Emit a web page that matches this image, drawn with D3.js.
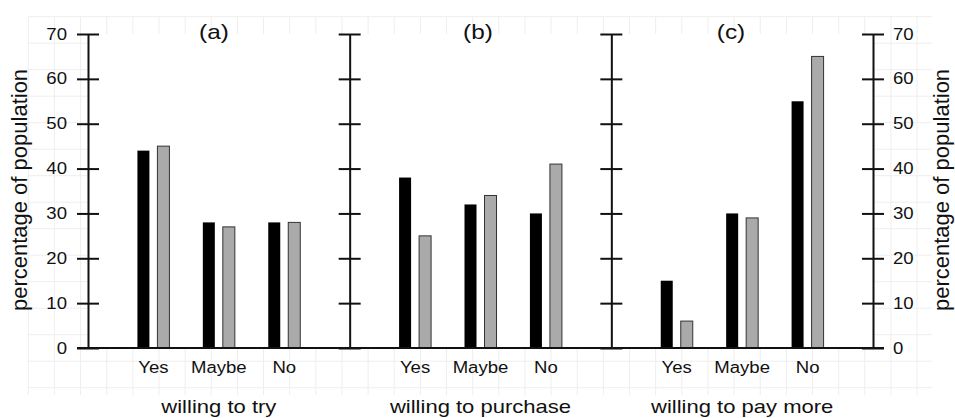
<!DOCTYPE html>
<html>
<head>
<meta charset="utf-8">
<script src="https://cdn.jsdelivr.net/npm/d3@7"></script>
<style>
  body { margin: 0; background: #fff; }
  text { font-family: "Liberation Sans", Arial, sans-serif; fill: #111; }
</style>
</head>
<body>
<svg id="chart" width="955" height="418"></svg>
<script>
const categories = ['Yes', 'Maybe', 'No'];
const series = ['black', 'gray'];
const panelTitles = ['(a)', '(b)', '(c)'];
const panelLabels = ['willing to try', 'willing to purchase', 'willing to pay more'];
const blackValues = [[44, 28, 28], [38, 32, 30], [15, 30, 55]];
const grayValues = [[45, 27, 28], [25, 34, 41], [6, 29, 65]];
const yTicks = [0, 10, 20, 30, 40, 50, 60, 70];
const yTitle = 'percentage of population';

const svg = d3.select('#chart');
const sx = 1.16; // the scanned figure is a little stretched sideways
const titleX = [214, 478, 731];

const y = d3.scaleLinear().domain([0, 70]).range([348, 34]);
const panel = d3.scaleBand().domain(d3.range(3)).range([88, 873]);
const x = d3.scalePoint().domain(categories).range([0, panel.bandwidth()]).padding(1);
const sub = d3.scaleBand().domain(series).range([-16, 16]).paddingInner(0.4);

// faint background grid from the scan, hidden behind the plot box
const grid = svg.append('g').attr('stroke', '#eeeeee').attr('stroke-width', 1);
d3.range(28.3, 935, 26.14).forEach(gx => {
  grid.append('line').attr('x1', gx).attr('x2', gx).attr('y1', 17).attr('y2', 395);
});
d3.range(16.7, 400, 26.5).forEach(gy => {
  grid.append('line').attr('x1', 28).attr('x2', 932).attr('y1', gy).attr('y2', gy);
});
svg.append('rect')
  .attr('x', panel(0)).attr('y', y(70))
  .attr('width', 873 - panel(0)).attr('height', y(0) - y(70))
  .attr('fill', '#fff');

function stretch(sel, tx, ty, rot, s) {
  sel.attr('transform', 'translate(' + tx + ',' + ty + ') scale(' + (s || sx) + ',1)' + (rot ? ' rotate(' + rot + ')' : ''));
}

// bars
const rows = [];
blackValues.forEach((vals, i) => {
  categories.forEach((c, j) => {
    rows.push({ panel: i, cat: c, s: 'black', v: vals[j] });
    rows.push({ panel: i, cat: c, s: 'gray', v: grayValues[i][j] });
  });
});

svg.append('g').selectAll('rect')
  .data(rows)
  .enter().append('rect')
  .attr('x', d => panel(d.panel) + x(d.cat) + sub(d.s))
  .attr('y', d => y(d.v))
  .attr('width', sub.bandwidth())
  .attr('height', d => y(0) - y(d.v))
  .attr('fill', d => d.s === 'black' ? '#000' : '#aaaaaa')
  .attr('stroke', d => d.s === 'black' ? 'none' : '#333')
  .attr('stroke-width', 1);

// axes
function styleAxis(g) {
  g.attr('font-size', 16).attr('font-family', '"Liberation Sans", Arial, sans-serif');
  g.select('.domain').attr('stroke', '#111').attr('stroke-width', 2);
  g.selectAll('.tick line').attr('x1', -11).attr('x2', 11).attr('stroke', '#111').attr('stroke-width', 2);
  g.selectAll('.tick text').each(function () {
    const t = d3.select(this);
    const tx = +t.attr('x');
    t.attr('x', 0).attr('fill', '#111');
    stretch(t, tx, 0);
  });
}

svg.append('g')
  .attr('transform', 'translate(' + panel(0) + ',0)')
  .call(d3.axisLeft(y).tickValues(yTicks).tickSize(11).tickSizeOuter(0).tickPadding(10))
  .call(styleAxis);

[1, 2].forEach(i => {
  svg.append('g')
    .attr('transform', 'translate(' + panel(i) + ',0)')
    .call(d3.axisLeft(y).tickValues(yTicks).tickSize(11).tickSizeOuter(0).tickFormat(() => ''))
    .call(styleAxis);
});

svg.append('g')
  .attr('transform', 'translate(873,0)')
  .call(d3.axisRight(y).tickValues(yTicks).tickSize(11).tickSizeOuter(0).tickPadding(9))
  .call(styleAxis);

// baseline
svg.append('line')
  .attr('x1', panel(0) - 11).attr('x2', 873 + 11)
  .attr('y1', y(0)).attr('y2', y(0))
  .attr('stroke', '#111').attr('stroke-width', 2);

// category labels, panel labels, titles
panelLabels.forEach((lab, i) => {
  categories.forEach(c => {
    svg.append('text').text(c)
      .attr('font-size', 16).attr('text-anchor', 'middle')
      .call(stretch, panel(i) + x(c), 373);
  });
  svg.append('text').text(lab)
    .attr('font-size', 19).attr('text-anchor', 'middle')
    .call(stretch, panel(i) + panel.bandwidth() / 2, 413);
  svg.append('text').text(panelTitles[i])
    .attr('font-size', 21).attr('text-anchor', 'middle')
    .call(stretch, titleX[i], 39);
});

// y titles on both sides
svg.append('text').text(yTitle)
  .attr('font-size', 22).attr('text-anchor', 'middle')
  .call(stretch, 27, 190, -90, 1);
svg.append('text').text(yTitle)
  .attr('font-size', 22).attr('text-anchor', 'middle')
  .call(stretch, 949, 190, -90, 1);
</script>
</body>
</html>
